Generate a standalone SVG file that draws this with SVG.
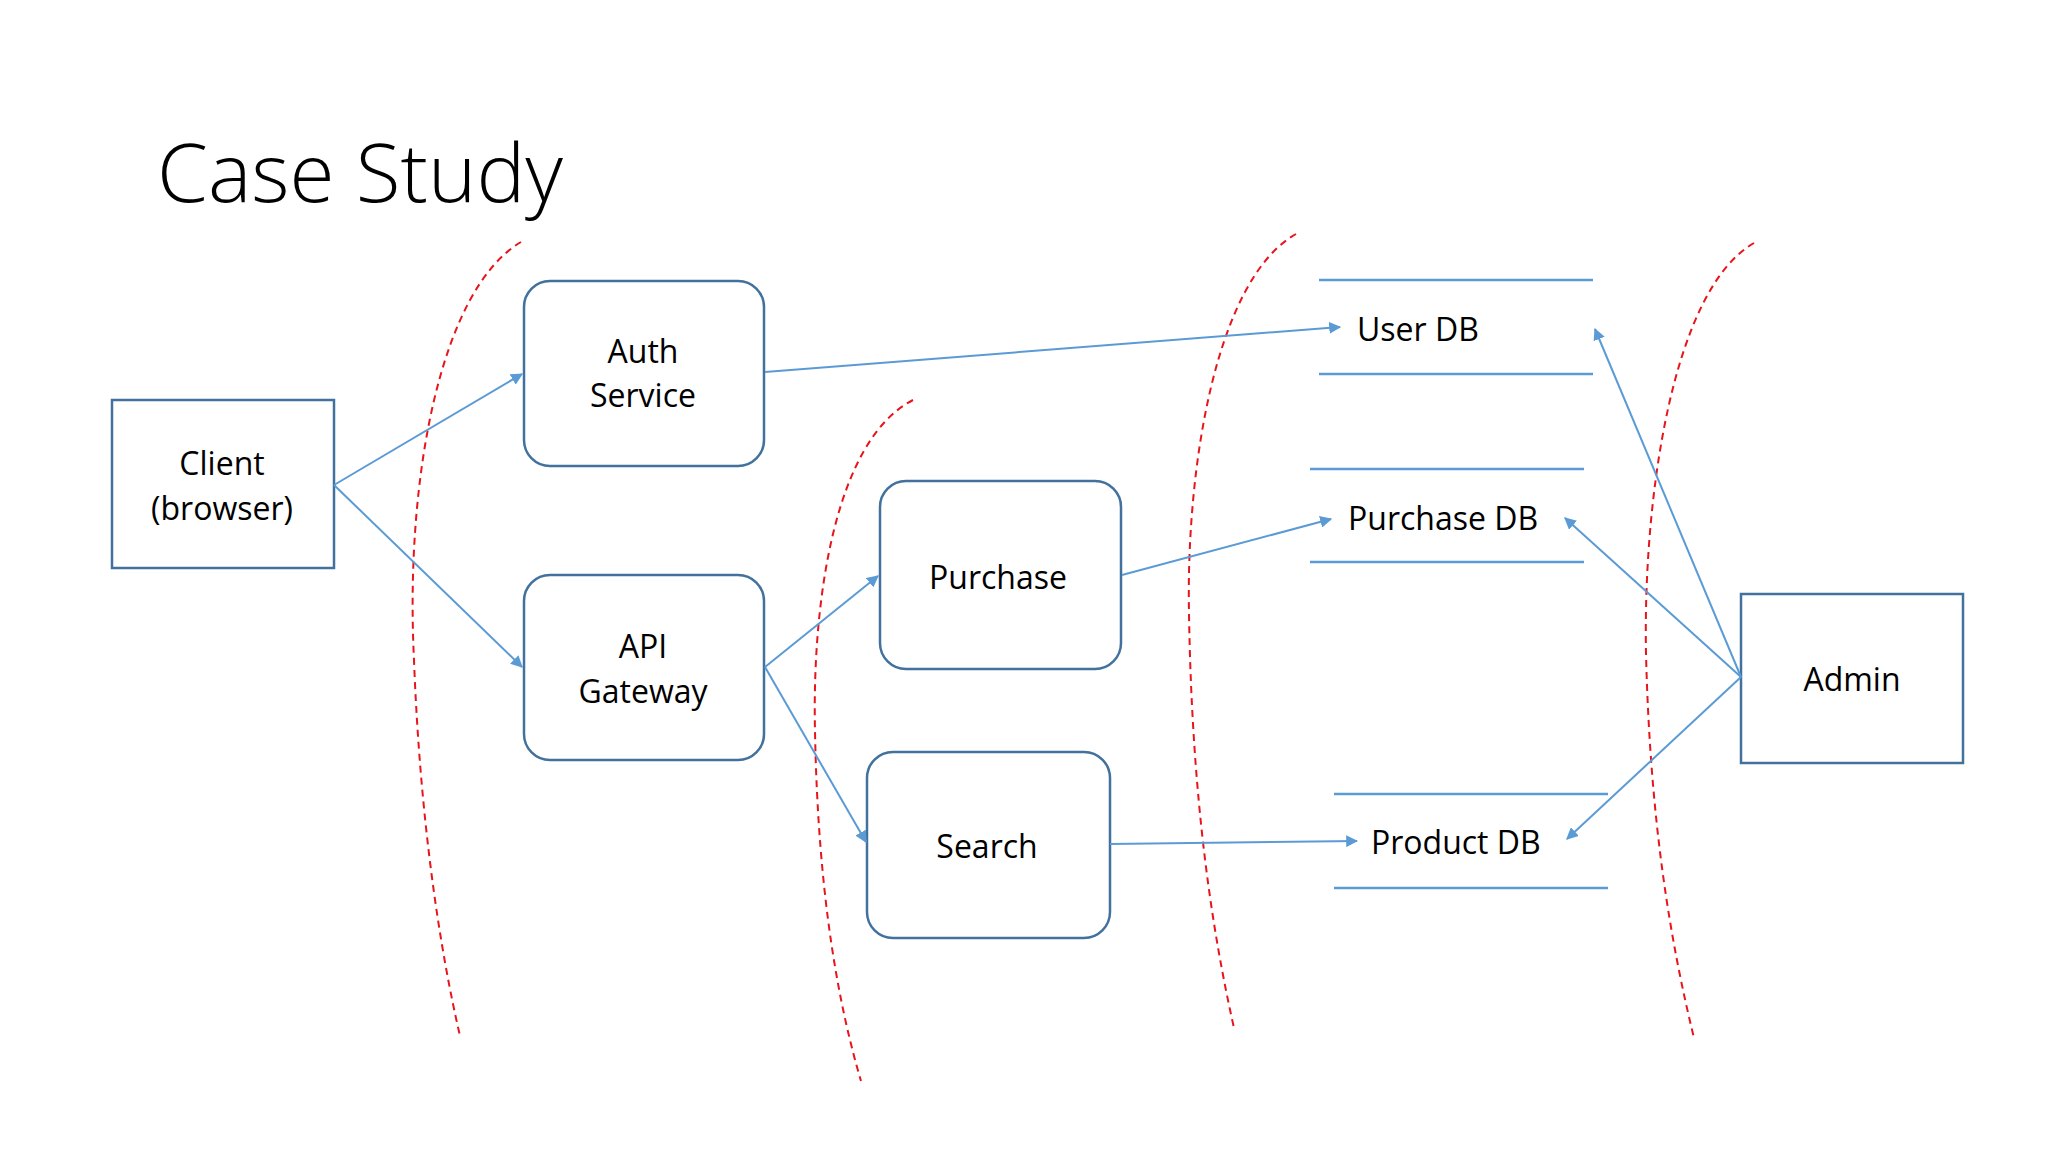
<svg xmlns="http://www.w3.org/2000/svg" width="2048" height="1152" viewBox="0 0 2048 1152">
<defs>
<style>
text{font-family:"Open Sans","Liberation Sans",sans-serif;font-size:32px;fill:#000;text-anchor:middle;dominant-baseline:central}
.box{fill:#fff;stroke:#41719C;stroke-width:2.5}
.db{stroke:#5B9BD5;stroke-width:2.5}
.c{stroke:#5B9BD5;stroke-width:2;fill:none;marker-end:url(#a)}
.r{stroke:#E8141B;stroke-width:2;fill:none;stroke-dasharray:7 5}
</style>
<marker id="a" viewBox="0 0 10 10" refX="9" refY="5" markerWidth="6" markerHeight="6" orient="auto"><path d="M0,0L10,5L0,10z" fill="#5B9BD5"/></marker>
</defs>
<rect width="2048" height="1152" fill="#fff"/>
<text x="157" y="170" style="font-size:82px;text-anchor:start;font-family:'Open Sans','Liberation Sans',sans-serif;font-weight:300">Case Study</text>
<g id="dashes">
<path class="r" d="M521,242 C440,290 405,480 414,660 C420,820 440,950 460,1036"/>
<path class="r" d="M913,400 C835,440 812,600 815,731 C818,900 840,1010 861,1081"/>
<path class="r" d="M1296,234 C1215,280 1186,470 1189,614 C1192,800 1212,930 1234,1028"/>
<path class="r" d="M1754,243 C1672,290 1643,500 1646,653 C1650,820 1670,940 1694,1038"/>
</g>
<g id="client"><rect class="box" x="112" y="400" width="222" height="168"/><text x="222" y="462">Client</text><text x="222" y="507">(browser)</text></g>
<g id="auth"><rect class="box" x="524" y="281" width="240" height="185" rx="26"/><text x="643" y="350">Auth</text><text x="643" y="394">Service</text></g>
<g id="api"><rect class="box" x="524" y="575" width="240" height="185" rx="26"/><text x="643" y="645">API</text><text x="643" y="690">Gateway</text></g>
<g id="purchase"><rect class="box" x="880" y="481" width="241" height="188" rx="26"/><text x="998" y="576">Purchase</text></g>
<g id="search"><rect class="box" x="867" y="752" width="243" height="186" rx="26"/><text x="987" y="845">Search</text></g>
<g id="admin"><rect class="box" x="1741" y="594" width="222" height="169"/><text x="1852" y="678">Admin</text></g>
<g id="userdb"><line class="db" x1="1319" y1="280" x2="1593" y2="280"/><line class="db" x1="1319" y1="374" x2="1593" y2="374"/><text x="1357" y="328" style="text-anchor:start">User DB</text></g>
<g id="purchasedb"><line class="db" x1="1310" y1="469" x2="1584" y2="469"/><line class="db" x1="1310" y1="562" x2="1584" y2="562"/><text x="1348" y="517" style="text-anchor:start">Purchase DB</text></g>
<g id="productdb"><line class="db" x1="1334" y1="794" x2="1608" y2="794"/><line class="db" x1="1334" y1="888" x2="1608" y2="888"/><text x="1371" y="841" style="text-anchor:start">Product DB</text></g>
<g id="connectors">
<line class="c" x1="334" y1="485" x2="522" y2="374"/>
<line class="c" x1="334" y1="485" x2="522" y2="667"/>
<line class="c" x1="765" y1="372" x2="1340" y2="327"/>
<line class="c" x1="765" y1="667" x2="878" y2="576"/>
<line class="c" x1="765" y1="667" x2="866" y2="842"/>
<line class="c" x1="1122" y1="575" x2="1331" y2="519"/>
<line class="c" x1="1110" y1="844" x2="1357" y2="841"/>
<line class="c" x1="1741" y1="677" x2="1595" y2="329"/>
<line class="c" x1="1741" y1="677" x2="1565" y2="518"/>
<line class="c" x1="1741" y1="677" x2="1567" y2="839"/>
</g>
</svg>
